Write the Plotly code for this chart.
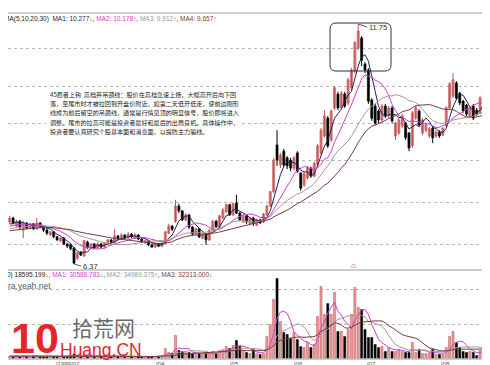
import plotly.graph_objects as go
import pandas as pd

W, H = 490, 365
def px(x): return x / W
def py(y): return 1 - y / H

# ---------------- data ----------------
open_prices = [7.31, 7.40, 7.22, 7.33, 7.13, 7.29, 7.18, 7.27, 7.16, 7.29,
               7.20, 7.13, 7.02, 7.09, 6.98, 6.89, 6.95, 6.82, 6.80, 6.73,
               6.50, 6.64, 6.55, 6.86, 6.73, 6.82, 6.73, 6.82, 6.75, 6.82,
               6.91, 6.86, 7.00, 6.93, 7.02, 6.95, 7.04, 6.95, 7.02, 6.93,
               6.84, 6.89, 6.80, 6.75, 6.82, 6.77, 6.84, 7.06, 7.22, 7.33,
               7.67, 7.56, 7.36, 7.47, 7.20, 7.04, 7.16, 6.95, 7.04, 6.91,
               7.13, 7.33, 7.20, 7.40, 7.54, 7.70, 7.47, 7.74, 7.51, 7.33,
               7.45, 7.27, 7.40, 7.24, 7.36, 7.31, 7.47, 7.67, 7.99, 9.04,
               8.59, 8.90, 8.75, 8.70, 8.52, 8.86, 8.41, 8.14, 8.30, 8.52,
               8.34, 8.59, 8.86, 9.24, 9.64, 9.15, 9.87, 10.18, 9.87, 10.18,
               9.98, 10.32, 10.70, 11.21, 11.44, 10.85, 10.72, 10.05, 9.91, 9.80,
               9.60, 9.91, 9.69, 9.87, 9.24, 9.31, 9.47, 9.53, 9.31, 9.02,
               9.64, 9.80, 9.31, 9.37, 9.24, 9.42, 9.24, 9.33, 9.26, 9.47,
               9.87, 10.14, 10.43, 10.20, 10.02, 9.93, 9.69, 9.91, 9.82, 9.76,
               10.05, 10.32, 10.14, 10.72, 10.41]
close_prices = [7.40, 7.29, 7.33, 7.20, 7.29, 7.18, 7.27, 7.16, 7.29, 7.20,
                7.13, 7.06, 7.09, 6.98, 6.91, 6.95, 6.82, 6.77, 6.71, 6.39,
                6.62, 6.57, 6.89, 6.73, 6.82, 6.73, 6.82, 6.75, 6.84, 6.91,
                6.86, 7.00, 6.93, 7.02, 6.95, 7.04, 6.98, 7.02, 6.93, 6.86,
                6.89, 6.80, 6.75, 6.82, 6.77, 6.84, 7.09, 7.22, 7.15, 7.67,
                7.56, 7.36, 7.47, 7.20, 7.04, 7.16, 6.98, 7.04, 6.91, 7.13,
                7.33, 7.20, 7.45, 7.58, 7.70, 7.47, 7.72, 7.51, 7.36, 7.45,
                7.31, 7.40, 7.27, 7.36, 7.29, 7.49, 7.67, 7.99, 8.70, 8.70,
                8.81, 8.59, 8.57, 8.52, 8.75, 8.45, 8.07, 8.39, 8.52, 8.34,
                8.63, 9.02, 9.37, 9.69, 9.02, 9.80, 10.32, 9.87, 10.20, 9.91,
                10.50, 10.72, 11.33, 11.59, 10.94, 10.72, 10.02, 9.64, 9.53, 9.60,
                9.91, 9.69, 9.87, 9.58, 9.53, 9.60, 9.69, 9.20, 8.97, 9.76,
                9.87, 9.49, 9.60, 9.49, 9.40, 9.20, 9.33, 9.24, 9.42, 9.87,
                10.41, 10.50, 10.09, 9.98, 9.80, 9.73, 9.87, 9.64, 9.73, 10.09,
                10.36, 10.14, 10.65, 10.41, 10.65]
high_prices = [7.45, 7.43, 7.36, 7.36, 7.33, 7.31, 7.29, 7.29, 7.40, 7.31,
               7.22, 7.15, 7.11, 7.11, 7.00, 6.98, 6.98, 6.84, 6.82, 6.75,
               6.64, 6.66, 6.91, 6.89, 6.84, 6.84, 6.86, 6.84, 6.86, 6.93,
               6.93, 7.15, 7.02, 7.06, 7.04, 7.09, 7.06, 7.06, 7.04, 6.95,
               6.91, 6.91, 6.82, 6.84, 6.84, 6.86, 7.11, 7.27, 7.24, 7.81,
               7.72, 7.58, 7.51, 7.49, 7.22, 7.18, 7.18, 7.06, 7.06, 7.15,
               7.36, 7.36, 7.47, 7.63, 7.72, 7.72, 7.74, 7.92, 7.54, 7.47,
               7.47, 7.43, 7.43, 7.38, 7.38, 7.51, 7.70, 8.01, 8.75, 9.37,
               8.86, 8.95, 8.79, 8.75, 8.79, 8.90, 8.43, 8.43, 8.57, 8.55,
               8.66, 9.06, 9.42, 9.82, 9.69, 9.84, 10.36, 10.23, 10.25, 10.23,
               10.54, 10.76, 11.37, 11.75, 11.48, 10.90, 10.76, 10.09, 9.96, 9.84,
               9.96, 9.96, 9.91, 9.91, 9.56, 9.64, 9.73, 9.56, 9.33, 9.80,
               9.93, 9.84, 9.64, 9.53, 9.44, 9.47, 9.37, 9.37, 9.44, 9.91,
               10.45, 10.65, 10.47, 10.23, 10.05, 9.96, 9.91, 9.96, 9.87, 10.14,
               10.41, 10.36, 10.70, 10.81, 10.70]
low_prices = [7.27, 7.26, 7.20, 7.15, 6.95, 7.15, 7.15, 7.13, 7.13, 7.18,
              7.09, 7.02, 7.00, 6.95, 6.89, 6.86, 6.80, 6.73, 6.68, 6.37,
              6.46, 6.55, 6.53, 6.71, 6.71, 6.71, 6.71, 6.73, 6.73, 6.80,
              6.84, 6.84, 6.91, 6.91, 6.93, 6.93, 6.95, 6.93, 6.91, 6.84,
              6.82, 6.77, 6.73, 6.73, 6.75, 6.75, 6.82, 7.04, 7.11, 7.29,
              7.51, 7.33, 7.33, 7.15, 7.00, 7.02, 6.95, 6.93, 6.80, 6.89,
              7.11, 7.18, 7.18, 7.38, 7.51, 7.45, 7.45, 7.49, 7.33, 7.29,
              7.27, 7.24, 7.22, 7.22, 7.27, 7.29, 7.45, 7.65, 7.96, 8.57,
              8.52, 8.55, 8.50, 8.45, 8.48, 8.41, 8.01, 8.10, 8.27, 8.30,
              8.32, 8.55, 8.81, 9.20, 8.97, 9.11, 9.82, 9.82, 9.84, 9.87,
              9.93, 10.27, 10.65, 11.17, 10.81, 10.65, 9.96, 9.58, 9.49, 9.53,
              9.56, 9.64, 9.64, 9.53, 9.15, 9.26, 9.42, 9.15, 8.90, 8.97,
              9.60, 9.44, 9.26, 9.33, 9.20, 9.08, 9.20, 9.20, 9.24, 9.44,
              9.84, 10.09, 10.05, 9.93, 9.76, 9.69, 9.64, 9.60, 9.69, 9.73,
              10.02, 10.09, 10.09, 10.36, 10.36]
volumes = [7200, 6500, 8100, 5800, 7600, 6900, 5400, 7800, 8800, 6200,
           5600, 6400, 5100, 6700, 7300, 5900, 6800, 7500, 8200, 12600,
           9800, 6900, 11300, 7400, 6100, 5300, 6000, 5200, 5800, 6400,
           5500, 8600, 6100, 5700, 5200, 6300, 5400, 5000, 5600, 6000,
           5300, 5800, 6200, 5600, 6900, 8200, 29000, 17400, 14500, 66700,
           23200, 20300, 17400, 17400, 14500, 11600, 14500, 11600, 17400, 14500,
           20300, 14500, 23200, 26100, 34800, 29000, 37700, 52200, 34800, 23200,
           17400, 14500, 26100, 14500, 11600, 14500, 63800, 98600, 171100, 232000,
           107300, 75400, 69600, 58000, 75400, 55100, 34800, 31900, 46400, 31900,
           40600, 121800, 208800, 127600, 159500, 127600, 191400, 78300, 78300, 63800,
           84100, 127600, 205900, 147900, 142100, 84100, 60900, 60900, 40600, 31900,
           34800, 20300, 31900, 20300, 20300, 26100, 20300, 17400, 17400, 46400,
           17400, 26100, 14500, 14500, 14500, 26100, 11600, 11600, 11600, 31900,
           63800, 78300, 46400, 31900, 20300, 17400, 20300, 17400, 8700, 23200,
           31900, 17400, 49300, 49300, 18595]
# closes / volumes before the visible window (feed the moving averages only)
pre_close = [6.98, 7.02, 6.95, 7.01, 7.05, 7.00, 7.04, 7.08, 7.03, 7.06,
             7.10, 7.05, 7.09, 7.12, 7.08, 7.11, 7.15, 7.10, 7.14, 7.18,
             7.13, 7.17, 7.21, 7.16, 7.20, 7.24, 7.19, 7.23, 7.27]
pre_volume = [6100, 7400, 5800, 6600, 8000, 5500, 6900, 7200, 6300, 5700,
              7700, 6400, 5900, 7100, 6600, 8300, 6000, 5400, 6800]

price_ma_periods = [5, 10, 20, 30]
volume_ma_periods = [5, 10, 20]
date_tick_pos = [13.4, 42.9, 64.8, 83.7, 105.3, 127.2]
date_tick_labels = ["1999/02", "04", "05", "06", "07", "08"]
price_grid = [11.21, 10.36, 9.53, 8.68, 7.74, 6.80]
volume_grid = [100000, 200000]
peak_label = "11.75"
low_label = "6.37"

text_lines = [
    "45愿者上钩  高档弃吊颈线：股价在高档急速上扬，大幅高开后向下回",
    "落，至尾市时才被拉回到开盘价附近，如第二天低开低走，使前边刚形",
    "线成为前后留空的吊颈线，通常是行情见顶的明显信号，股价即将进入",
    "调整。尾市的拉高可能是投资者最好和最后的出局良机。具体操作中，",
    "投资者要认真研究个股基本面和消息面，以提防主力骗线。",
]

# ---------------- derived ----------------
N = len(close_prices)
idx = list(range(N))
full_close = pre_close + close_prices
pma = {n: pd.Series(full_close).rolling(n, min_periods=1).mean().tolist()[len(pre_close):]
       for n in price_ma_periods}
full_vol = pre_volume + volumes
vma = {n: pd.Series(full_vol).rolling(n, min_periods=1).mean().tolist()[len(pre_volume):]
       for n in volume_ma_periods}

up = [c >= o for o, c in zip(open_prices, close_prices)]
UP_FILL, UP_LINE, DN = "#e69a9a", "#c24f4f", "#000000"

fig = go.Figure()

# wicks
for flag, col in ((True, UP_LINE), (False, DN)):
    xs, ys = [], []
    for i in idx:
        if up[i] == flag:
            xs += [i, i, None]
            ys += [low_prices[i], high_prices[i], None]
    fig.add_trace(go.Scatter(x=xs, y=ys, mode="lines", line=dict(color=col, width=1),
                             hoverinfo="skip", xaxis="x", yaxis="y"))
# bodies
for flag, fill, line in ((True, UP_FILL, UP_LINE), (False, DN, DN)):
    xs = [i for i in idx if up[i] == flag]
    base = [min(open_prices[i], close_prices[i]) for i in xs]
    hgt = [max(abs(close_prices[i] - open_prices[i]), 0.012) for i in xs]
    fig.add_trace(go.Bar(x=xs, y=hgt, base=base, width=0.62,
                         marker=dict(color=fill, line=dict(color=line, width=0.6)),
                         xaxis="x", yaxis="y"))

ma_colors = {5: "#22225e", 10: "#cc3fcc", 20: "#a39a9a", 30: "#7a3a3a"}
for n in price_ma_periods:
    fig.add_trace(go.Scatter(x=idx, y=pma[n], mode="lines",
                             line=dict(color=ma_colors[n], width=1), xaxis="x", yaxis="y"))

# volume
for flag, fill, line in ((True, UP_FILL, UP_LINE), (False, DN, DN)):
    xs = [i for i in idx if up[i] == flag]
    fig.add_trace(go.Bar(x=xs, y=[volumes[i] for i in xs], width=0.62,
                         marker=dict(color=fill, line=dict(color=line, width=0.5)),
                         xaxis="x2", yaxis="y2"))
vma_colors = {5: "#cc3fcc", 10: "#a39a9a", 20: "#7a3a3a"}
for n in volume_ma_periods:
    fig.add_trace(go.Scatter(x=idx, y=vma[n], mode="lines",
                             line=dict(color=vma_colors[n], width=1), xaxis="x2", yaxis="y2"))

# ---------------- layout ----------------
xr = [-0.5, 144.3]
axis_off = dict(showgrid=False, showticklabels=False, zeroline=False, showline=False, ticks="")
fig.update_layout(
    width=W, height=H, margin=dict(l=0, r=0, t=0, b=0),
    paper_bgcolor="white", plot_bgcolor="white", showlegend=False, barmode="overlay",
    xaxis=dict(domain=[0, 1], range=xr, anchor="y", **axis_off),
    xaxis2=dict(domain=[0, 1], range=xr, anchor="y2", matches="x", **axis_off),
    yaxis=dict(domain=[py(262), py(5)], range=[6.2355, 11.998], tickvals=price_grid,
               showticklabels=False, showgrid=True, gridcolor="#b8b8b8", griddash="dot",
               gridwidth=1, zeroline=False, ticks=""),
    yaxis2=dict(domain=[py(350.5), py(262)], range=[0, 256700], tickvals=volume_grid,
                showticklabels=False, showgrid=True, gridcolor="#b8b8b8", griddash="dot",
                gridwidth=1, zeroline=False, ticks=""),
)

shapes = []
for yy in (5, 262, 351):
    shapes.append(dict(type="line", xref="paper", yref="paper", x0=0, x1=1,
                       y0=py(yy), y1=py(yy), line=dict(color="#9a9a9a", width=1)))
# white panel behind the explanatory text
shapes.append(dict(type="rect", xref="paper", yref="paper", x0=px(38), x1=px(234),
                   y0=py(129), y1=py(80), fillcolor="white", line=dict(width=0), layer="above"))
# rounded box around the top
x0, x1, yt, yb = px(322), px(383), py(15), py(63)
rx, ry = 6 / W, 6 / H
path = (f"M {x0+rx},{yt} L {x1-rx},{yt} Q {x1},{yt} {x1},{yt-ry} L {x1},{yb+ry} "
        f"Q {x1},{yb} {x1-rx},{yb} L {x0+rx},{yb} Q {x0},{yb} {x0},{yb+ry} "
        f"L {x0},{yt-ry} Q {x0},{yt} {x0+rx},{yt} Z")
shapes.append(dict(type="path", xref="paper", yref="paper", path=path,
                   line=dict(color="#333333", width=1)))
fig.update_layout(shapes=shapes)

LAT = "Liberation Sans, Arial, sans-serif"
CJK = "Noto Sans CJK SC, sans-serif"
G, R = "#1f9a1f", "#d82020"
ann = []
def note(x, y, text, size=7, color="#222", font=LAT, xanchor="left", **kw):
    ann.append(dict(x=px(x), y=py(y), xref="paper", yref="paper", text=text, showarrow=False,
                    xanchor=xanchor, yanchor="middle", font=dict(size=size, color=color, family=font), **kw))

note(-6, 10.5, ("MA(5,10,20,30)  <span style='color:#22225e'>MA1: 10.277</span><span style='color:%s'>↓</span>, "
                "<span style='color:#cc3fcc'>MA2: 10.178</span><span style='color:%s'>↑</span>, "
                "<span style='color:#999'>MA3: 9.912</span><span style='color:%s'>↑</span>, "
                "<span style='color:#7a3a3a'>MA4: 9.657</span><span style='color:%s'>↑</span>") % (G, R, R, R),
     size=6.5, color="#222")
note(-3, 267, ("0) 18595.199<span style='color:%s'>↓</span>, <span style='color:#cc3fcc'>MA1: 30586.783</span>"
               "<span style='color:%s'>↓</span>, <span style='color:#999'>MA2: 34989.375</span>"
               "<span style='color:%s'>↑</span>, <span style='color:#7a3a3a'>MA3: 32313.000</span>"
               "<span style='color:%s'>↓</span>") % (G, G, R, G), size=6.5, color="#222")
note(-2, 278, "ra.yeah.net", size=8.5, color="#4a5a7a")

for k, line in enumerate(text_lines):
    note(40, 86 + 9.4 * k, line, size=6.1, color="#1a1a1a", font=CJK)

# month labels below the volume panel
for pos, lab in zip(date_tick_pos, date_tick_labels):
    note(1.7 + 3.384 * pos, 356, "|" + lab, size=6, color="#555", borderpad=0)

# logo
note(27, 330, "<b>10</b>", size=43, color="#e3262b", xanchor="center")
note(95, 319, "拾荒网", size=21, color="#6b6b6b", font=CJK, xanchor="center")
note(50, 342, "Huang.CN", size=17.5, color="#e3262b")

# peak / trough labels
ann.append(dict(x=103, y=11.75, xref="x", yref="y", text=peak_label, showarrow=True, arrowhead=0,
                arrowwidth=0.8, arrowcolor="#333", ax=9, ay=3, xanchor="left",
                font=dict(size=7.5, color="#333", family=LAT)))
ann.append(dict(x=19, y=6.37, xref="x", yref="y", text=low_label, showarrow=True, arrowhead=0,
                arrowwidth=0.8, arrowcolor="#333", ax=7, ay=2, xanchor="left",
                font=dict(size=7.5, color="#333", family=LAT)))
note(345, 257, "⌂", size=8, color="#d82020", xanchor="center")
fig.update_layout(annotations=ann)

fig.write_html("out.html")
